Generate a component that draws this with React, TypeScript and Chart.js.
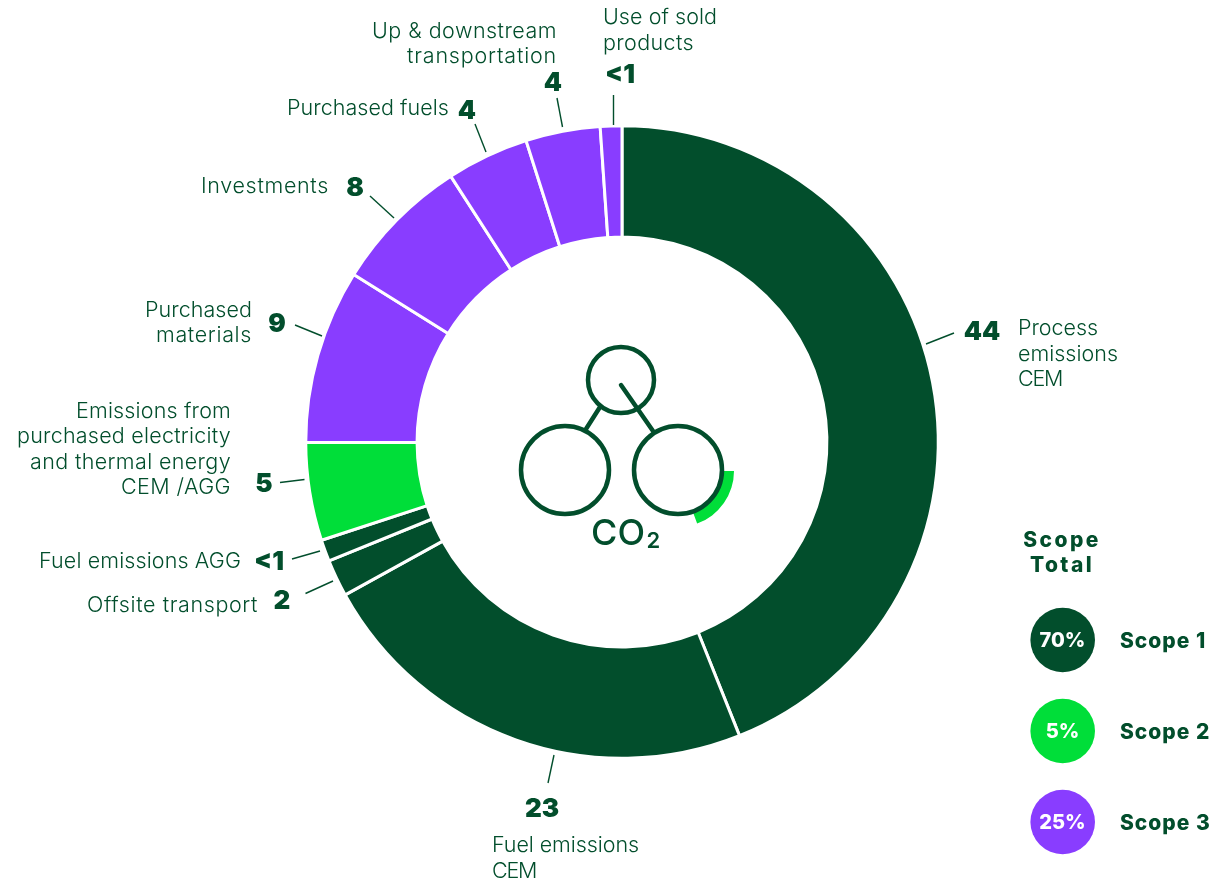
import React, { useEffect, useRef } from "react";
import { Chart, registerables } from "chart.js";

Chart.register(...registerables);

const DARK = "#024e2c";
const GREEN = "#00de39";
const PURPLE = "#893dff";

const categories = [
  "Process emissions CEM",
  "Fuel emissions CEM",
  "Offsite transport",
  "Fuel emissions AGG",
  "Emissions from purchased electricity and thermal energy CEM /AGG",
  "Purchased materials",
  "Investments",
  "Purchased fuels",
  "Up & downstream transportation",
  "Use of sold products",
];
const sliceValues = [43.9, 23, 1.9, 1.1, 5, 8.9, 7, 4.2, 3.8, 1.1];
const sliceColors = [DARK, DARK, DARK, DARK, GREEN, PURPLE, PURPLE, PURPLE, PURPLE, PURPLE];
const valueLabels = ["44", "23", "2", "<1", "5", "9", "8", "4", "4", "<1"];

const scopeNames = ["Scope 1", "Scope 2", "Scope 3"];
const scopeTotals = ["70%", "5%", "25%"];
const scopeColors = [DARK, GREEN, PURPLE];

type Ann = {
  lines: string[];
  widths: number[];
  align: CanvasTextAlign;
  x: number;
  ys: number[];
  numX: number;
  numY: number;
  lead: [number, number, number, number];
};

const annotations: Ann[] = [
  { lines: ["Process", "emissions", "CEM"], widths: [80, 100, 44], align: "left", x: 1018, ys: [328, 354, 379], numX: 982, numY: 331, lead: [926, 344, 954, 333] },
  { lines: ["Fuel emissions", "CEM"], widths: [147, 44], align: "left", x: 492, ys: [845, 871], numX: 542, numY: 808, lead: [548, 783, 554, 755] },
  { lines: ["Offsite transport"], widths: [171], align: "right", x: 258, ys: [605], numX: 282, numY: 600, lead: [305.5, 593.5, 333, 581] },
  { lines: ["Fuel emissions AGG"], widths: [202], align: "right", x: 241, ys: [561], numX: 269, numY: 561, lead: [292, 559, 320, 551] },
  { lines: ["Emissions from", "purchased electricity", "and thermal energy", "CEM /AGG"], widths: [155, 214, 201, 110], align: "right", x: 231, ys: [411, 436, 462, 487], numX: 264, numY: 483, lead: [280, 482.5, 304.5, 479.5] },
  { lines: ["Purchased", "materials"], widths: [107, 96], align: "right", x: 252, ys: [310, 335], numX: 277, numY: 323, lead: [295, 325, 322, 336] },
  { lines: ["Investments"], widths: [128], align: "right", x: 329, ys: [186], numX: 355, numY: 187, lead: [370, 196, 394, 218] },
  { lines: ["Purchased fuels"], widths: [162], align: "right", x: 449, ys: [108], numX: 467, numY: 110, lead: [475, 124, 486, 152] },
  { lines: ["Up & downstream", "transportation"], widths: [185, 150], align: "right", x: 557, ys: [31, 56], numX: 553, numY: 82, lead: [557, 98, 562.5, 127] },
  { lines: ["Use of sold", "products"], widths: [114, 91], align: "left", x: 603, ys: [17, 43], numX: 620, numY: 74, lead: [613.5, 95, 613.5, 125] },
];

const LABEL_FONT = '300 21.5px "Inter", sans-serif';
const NUM_FONT = '900 26px "Inter", sans-serif';
const DY = 0.8;

const overlay = {
  id: "overlay",
  afterDraw(chart: any) {
    const ctx: CanvasRenderingContext2D = chart.ctx;
    const spacing = (v: number) => ((ctx as any).letterSpacing = `${v}px`);
    ctx.save();
    ctx.textBaseline = "middle";
    ctx.lineCap = "butt";

    annotations.forEach((a, i) => {
      ctx.strokeStyle = DARK;
      ctx.lineWidth = 1.4;
      ctx.beginPath();
      ctx.moveTo(a.lead[0], a.lead[1]);
      ctx.lineTo(a.lead[2], a.lead[3]);
      ctx.stroke();

      ctx.fillStyle = DARK;
      ctx.font = LABEL_FONT;
      ctx.textAlign = "left";
      a.lines.forEach((t, k) => {
        spacing(0);
        const natural = ctx.measureText(t).width;
        spacing((a.widths[k] - natural) / t.length);
        const left = a.align === "right" ? a.x - a.widths[k] : a.x;
        ctx.fillText(t, left, a.ys[k] + DY);
      });
      spacing(0);

      ctx.font = NUM_FONT;
      ctx.textAlign = "center";
      ctx.fillText(valueLabels[i], a.numX, a.numY + DY);
    });

    // CO2 molecule
    ctx.fillStyle = GREEN;
    ctx.beginPath();
    ctx.arc(678, 471, 56, 0, (70 * Math.PI) / 180);
    ctx.arc(678, 471, 43, (70 * Math.PI) / 180, 0, true);
    ctx.closePath();
    ctx.fill();

    ctx.strokeStyle = DARK;
    ctx.lineWidth = 4.5;
    [
      [621, 380, 33],
      [565, 470, 44],
      [678, 470, 44],
    ].forEach(([x, y, r]) => {
      ctx.beginPath();
      ctx.arc(x, y, r, 0, Math.PI * 2);
      ctx.stroke();
    });
    ctx.lineCap = "round";
    ctx.beginPath();
    ctx.moveTo(621, 385);
    ctx.lineTo(653, 431);
    ctx.moveTo(600, 407);
    ctx.lineTo(586, 429);
    ctx.stroke();

    ctx.fillStyle = DARK;
    ctx.textAlign = "left";
    ctx.font = '500 36px "Inter", sans-serif';
    ctx.fillText("CO", 591, 534.5);
    ctx.font = '600 22px "Inter", sans-serif';
    ctx.fillText("2", 646.5, 541.5);

    // Scope legend
    ctx.textAlign = "center";
    ctx.font = '800 21px "Inter", sans-serif';
    spacing(2.4);
    ctx.fillStyle = DARK;
    ctx.fillText("Scope", 1062, 540 + DY);
    ctx.fillText("Total", 1062, 565 + DY);
    spacing(0);

    scopeNames.forEach((name, i) => {
      const y = 640 + i * 91;
      ctx.fillStyle = scopeColors[i];
      ctx.beginPath();
      ctx.arc(1062.7, y, 32.3, 0, Math.PI * 2);
      ctx.fill();
      ctx.fillStyle = "#ffffff";
      ctx.textAlign = "center";
      ctx.font = '800 20px "Inter", sans-serif';
      ctx.fillText(scopeTotals[i], 1062.5, y + DY + 0.5);
      ctx.fillStyle = DARK;
      ctx.textAlign = "left";
      ctx.font = '800 21px "Inter", sans-serif';
      spacing(1);
      ctx.fillText(name, 1120, y + 1 + DY);
      spacing(0);
    });
    ctx.restore();
  },
};

export default function App() {
  const ref = useRef<HTMLCanvasElement>(null);
  useEffect(() => {
    const chart = new Chart(ref.current!, {
      type: "doughnut",
      data: {
        labels: categories,
        datasets: [
          {
            data: sliceValues,
            backgroundColor: sliceColors,
            borderColor: "#ffffff",
            borderWidth: 3,
            hoverOffset: 0,
          },
        ],
      },
      options: {
        responsive: false,
        animation: false,
        cutout: "64.8%",
        layout: { padding: { left: 304.25, right: 285.25, top: 124.25, bottom: 121.25 } },
        plugins: { legend: { display: false }, tooltip: { enabled: false }, title: { display: false } },
      },
      plugins: [overlay],
    } as any);
    return () => chart.destroy();
  }, []);
  return (
    <canvas
      ref={ref}
      width={1225}
      height={881}
      style={{ position: "fixed", left: 0, top: 0, width: 1225, height: 881, display: "block" }}
    />
  );
}
